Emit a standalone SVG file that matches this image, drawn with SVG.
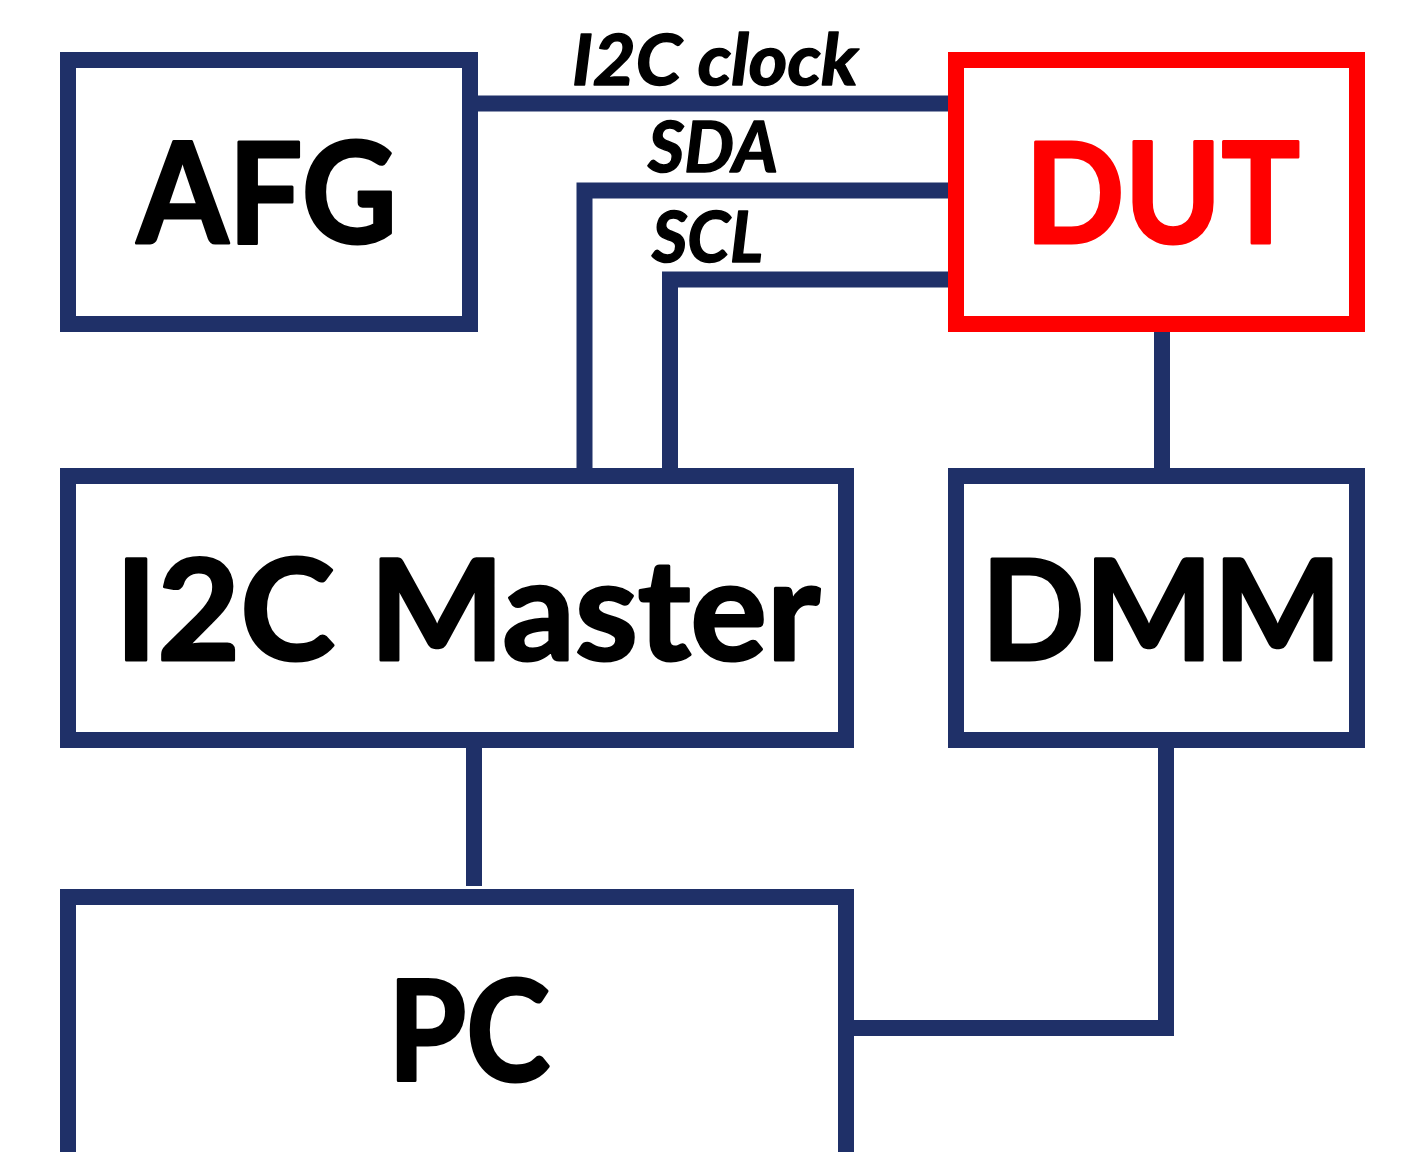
<svg xmlns="http://www.w3.org/2000/svg" width="1405" height="1152" viewBox="0 0 1405 1152">
<style>
.box{fill:none;stroke:#1f3068;stroke-width:16;}
.dut{fill:none;stroke:#ff0000;stroke-width:16;}
.wire{fill:none;stroke:#1f3068;stroke-width:16;stroke-linejoin:miter;stroke-linecap:butt;}
.big{font-family:Lato,"Open Sans","Liberation Sans",sans-serif;font-weight:bold;font-size:140px;fill:#000;stroke:#000;stroke-width:3;stroke-linejoin:round;}
.red{fill:#ff0000;stroke:#ff0000;}
.lbl{font-family:Lato,"Open Sans","Liberation Sans",sans-serif;font-weight:bold;font-style:italic;font-size:70px;fill:#000;stroke:#000;stroke-width:1.5;stroke-linejoin:round;}
</style>
<rect width="1405" height="1152" fill="#fff"/>
<g id="connectors">
<path class="wire" d="M478,103.5 H948"/>
<path class="wire" d="M948,190.5 H584.5 V468"/>
<path class="wire" d="M948,279.5 H670 V468"/>
<path class="wire" d="M1162,332 V468"/>
<path class="wire" d="M474,748 V886"/>
<path class="wire" d="M1166,748 V1028 H854"/>
</g>
<g id="labels">
<text class="lbl" x="572" y="85" textLength="286" lengthAdjust="spacingAndGlyphs">I2C clock</text>
<text class="lbl" x="648" y="172" textLength="130" lengthAdjust="spacingAndGlyphs">SDA</text>
<text class="lbl" x="652" y="262" textLength="111" lengthAdjust="spacingAndGlyphs">SCL</text>
</g>
<g id="afg">
<rect class="box" x="68" y="60" width="402" height="264"/>
<text class="big" x="137" y="243" textLength="260" lengthAdjust="spacingAndGlyphs">AFG</text>
</g>
<g id="dut">
<rect class="dut" x="956" y="60" width="401" height="264"/>
<text class="big red" x="1025" y="243" textLength="275" lengthAdjust="spacingAndGlyphs">DUT</text>
</g>
<g id="i2c-master">
<rect class="box" x="68" y="476" width="778" height="264"/>
<text class="big" x="115" y="660" textLength="705" lengthAdjust="spacingAndGlyphs">I2C Master</text>
</g>
<g id="dmm">
<rect class="box" x="956" y="476" width="401" height="264"/>
<text class="big" x="981" y="660" textLength="361" lengthAdjust="spacingAndGlyphs">DMM</text>
</g>
<g id="pc">
<rect class="box" x="68" y="897" width="778" height="300"/>
<text class="big" x="388" y="1081" textLength="162" lengthAdjust="spacingAndGlyphs">PC</text>
</g>
</svg>
